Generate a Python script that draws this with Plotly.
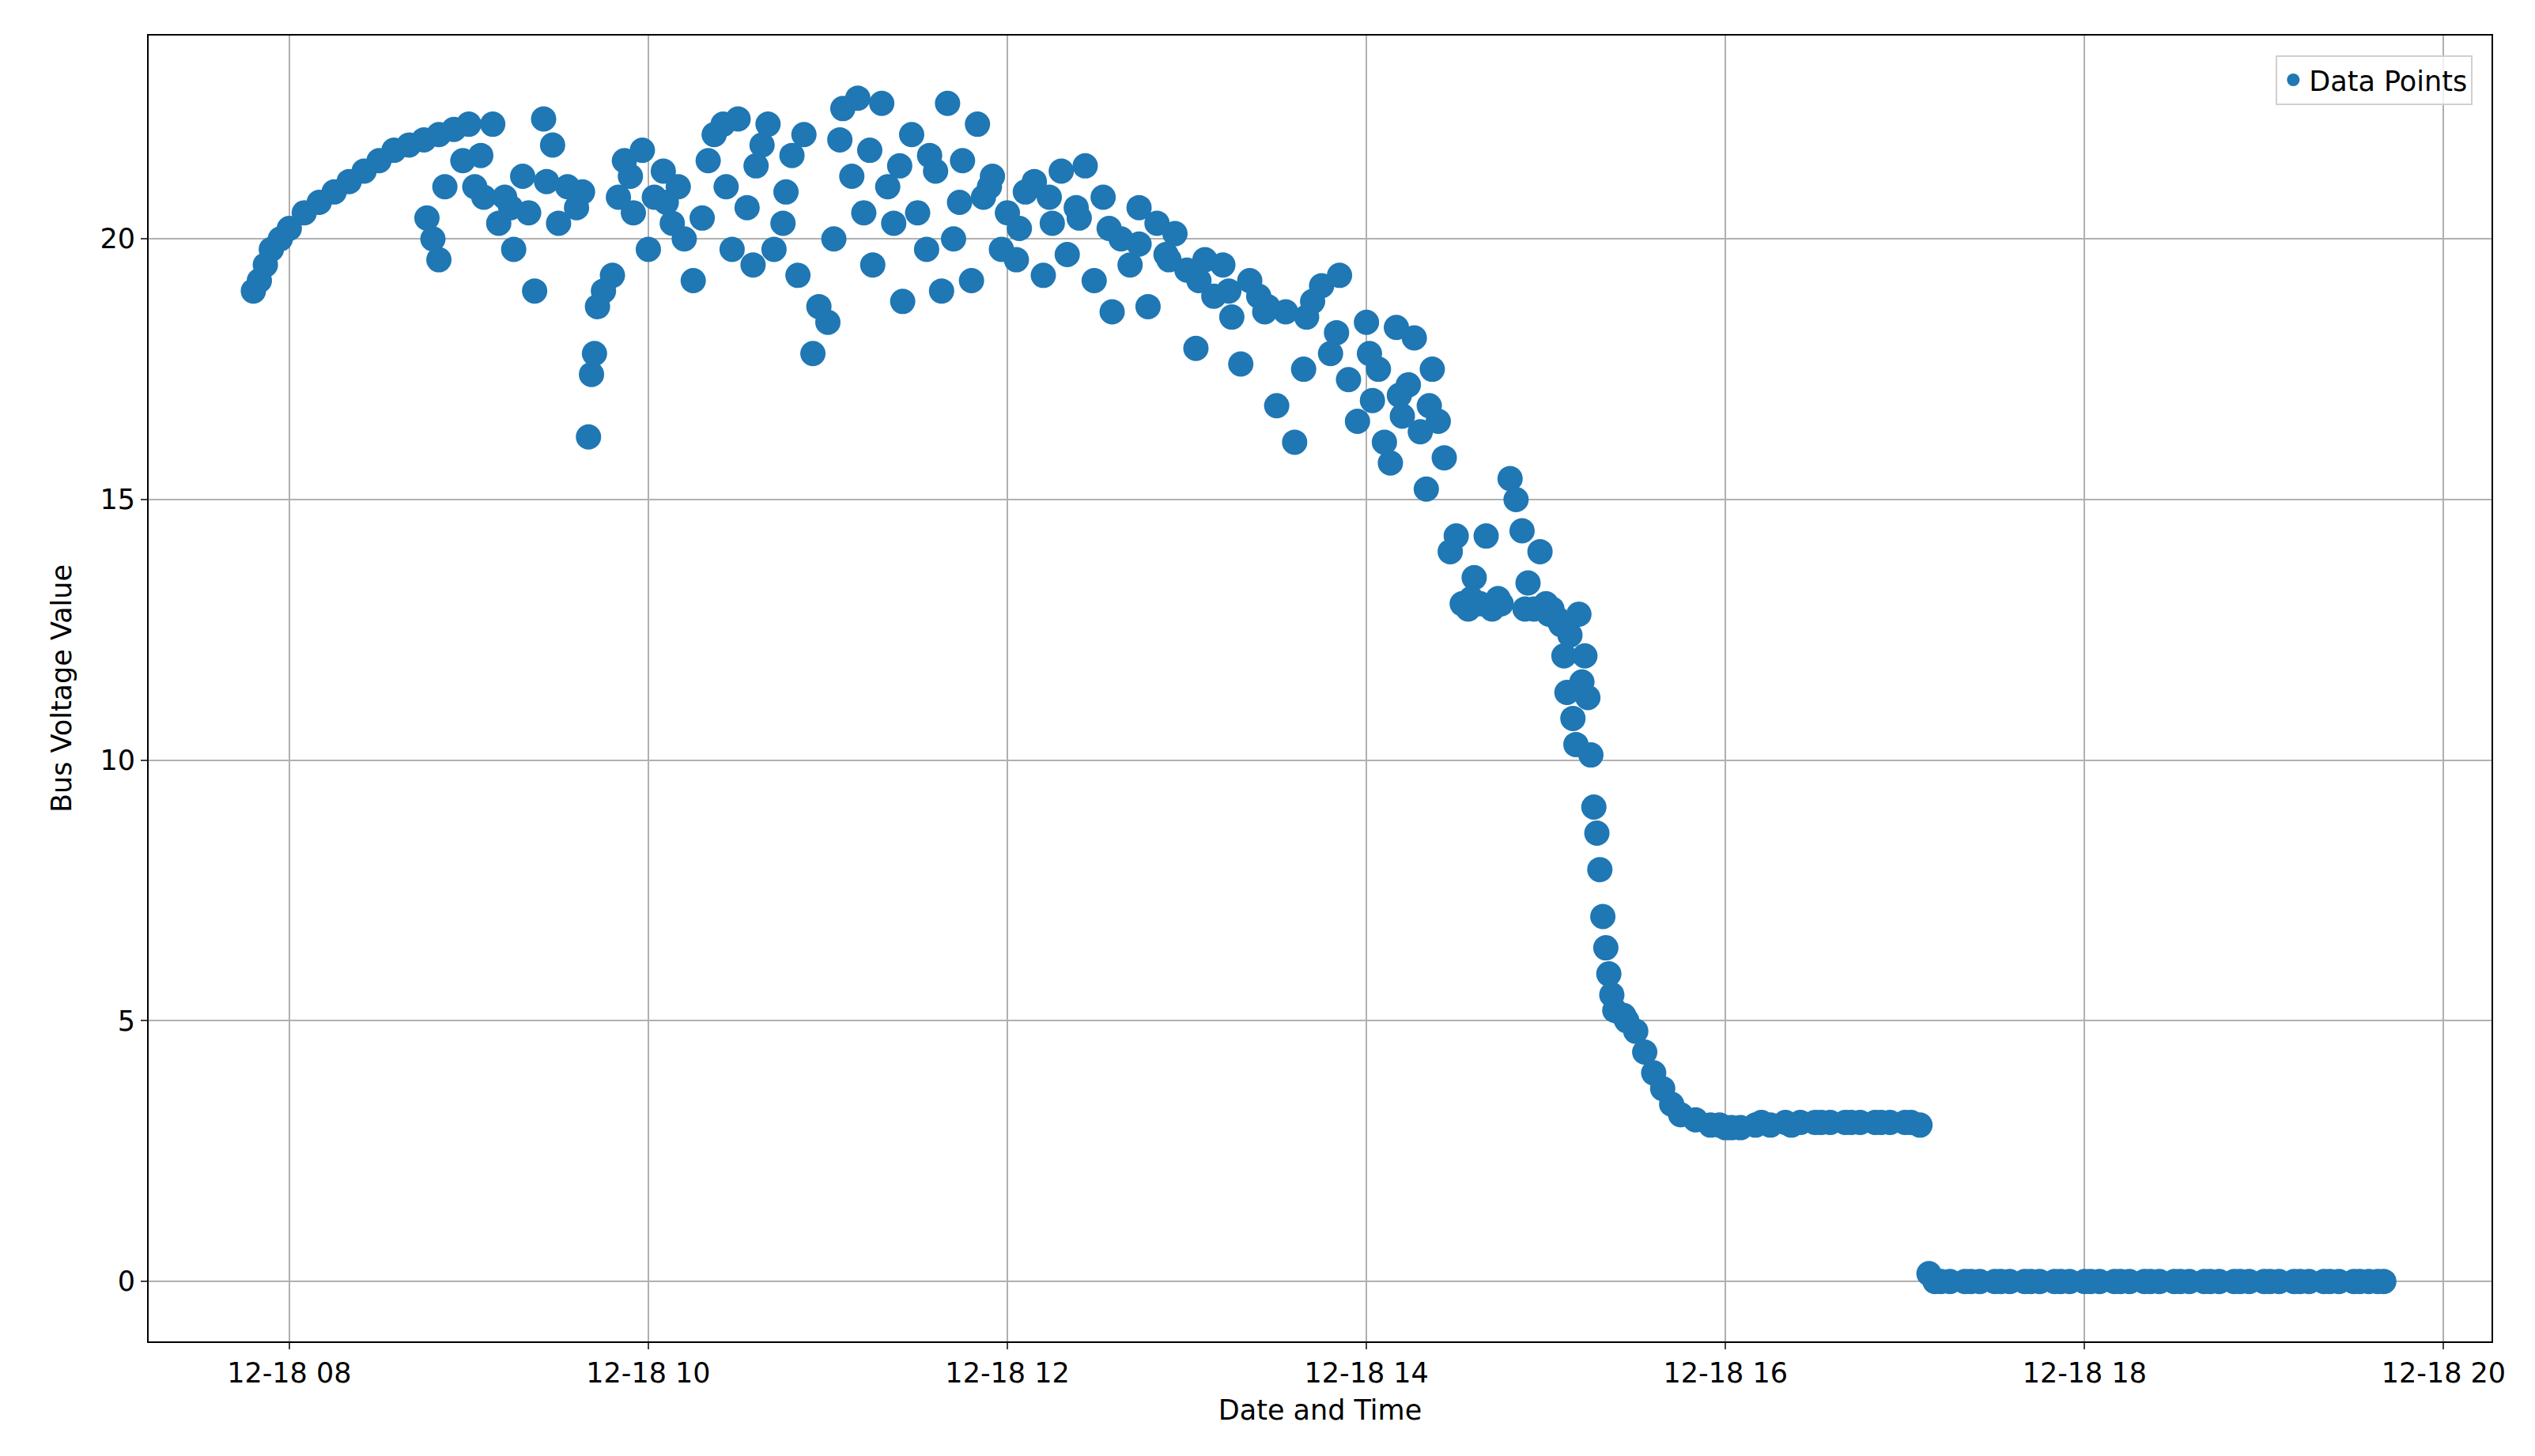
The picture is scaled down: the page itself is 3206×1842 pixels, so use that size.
import plotly.graph_objects as go

day = "2023-12-18 "

times = [
    "07:48", "07:50", "07:52", "07:54", "07:57", "08:00", "08:05", "08:10", "08:15", "08:20",
    "08:25", "08:30", "08:35", "08:40", "08:45", "08:50", "08:55", "09:00",
    "08:46", "08:48", "08:50", "08:52", "08:58", "09:02", "09:05",
    "09:08", "09:10", "09:12", "09:15", "09:18", "09:20", "09:22", "09:25", "09:28", "09:30",
    "09:33", "09:36", "09:40", "09:41", "09:42", "09:43", "09:45", "09:48", "09:50", "09:52",
    "09:55", "09:58", "10:00", "10:02", "10:05", "10:08", "10:10", "10:12", "10:15", "10:18",
    "10:20", "10:22", "10:25", "10:28", "10:30", "10:33", "10:35", "10:38", "10:40", "10:42",
    "10:45", "10:48", "10:50", "10:52", "10:55", "10:57", "11:00", "11:02", "11:05", "11:08",
    "11:10", "11:12", "11:15", "11:18", "11:20", "11:22", "11:25", "11:28", "11:30", "11:33",
    "11:36", "11:38", "11:40", "11:42", "11:45", "11:48", "11:50", "11:52", "11:55", "11:58",
    "12:00", "12:03", "12:06", "12:09", "12:12", "12:15", "12:18", "12:20", "12:23", "12:26",
    "12:29", "12:32", "12:35", "12:38", "12:41", "12:44", "12:47", "12:50", "12:53", "12:56",
    "13:00", "13:03", "13:06", "13:09", "13:12", "13:15", "13:18", "13:21", "13:24", "13:27",
    "13:30", "13:33", "13:36", "13:39", "13:42", "13:45", "13:48", "13:51", "13:54", "13:57",
    "14:00", "14:02", "14:04", "14:06", "14:08", "14:10", "14:12", "14:14", "14:16", "14:18",
    "14:20", "14:22", "14:24", "14:26", "14:28", "14:30", "14:32", "14:34", "14:36", "14:38",
    "14:40", "14:42", "14:45", "14:48", "14:50", "14:52", "14:54", "14:56", "14:58", "15:00",
    "15:02", "15:04", "15:06", "15:07", "15:08", "15:09", "15:10", "15:11", "15:12", "15:13",
    "15:14", "15:15", "15:16", "15:17", "15:18", "15:19", "15:20", "15:21", "15:22", "15:23",
    "15:26", "15:30", "15:33", "15:36", "15:39", "15:42", "15:45", "15:50", "15:55",
    "16:00", "16:05", "16:10", "16:15", "16:20", "16:25", "16:30", "16:35", "16:40", "16:45",
    "16:50", "16:55", "17:00", "17:05",
    "17:08", "17:10", "17:15", "17:20", "17:25", "17:30", "17:35", "17:40", "17:45", "17:50",
    "17:55", "18:00", "18:05", "18:10", "18:15", "18:20", "18:25", "18:30", "18:35", "18:40",
    "18:45", "18:50", "18:55", "19:00", "19:05", "19:10", "19:15", "19:20", "19:25", "19:30",
    "19:35", "19:40",
    # extra readings filling the dense mid-day band
    "09:04", "09:14", "09:26", "09:38", "09:54", "10:06", "10:26", "10:36", "10:46", "11:04",
    "11:14", "11:24", "11:34", "11:44", "11:54", "12:04", "12:14", "12:24", "12:34", "12:44",
    "12:54", "13:04", "13:14", "13:26", "13:40", "13:50", "14:01", "14:11", "14:21", "14:35",
    "14:44", "14:53", "15:01", "15:05", "15:27", "15:58", "16:02", "16:12", "16:22", "16:32",
    "16:42", "16:52", "17:02", "17:12", "17:22", "17:32", "17:42", "17:52", "18:02", "18:12",
    "18:22", "18:32", "18:42", "18:52", "19:02", "19:12", "19:22", "19:32", "19:38",
]

bus_voltage = [
    19.0, 19.2, 19.5, 19.8, 20.0, 20.2, 20.5, 20.7, 20.9, 21.1,
    21.3, 21.5, 21.7, 21.8, 21.9, 22.0, 22.1, 22.2,
    20.4, 20.0, 19.6, 21.0, 21.5, 21.0, 20.8,
    22.2, 20.3, 20.8, 19.8, 21.2, 20.5, 19.0, 22.3, 21.8, 20.3,
    21.0, 20.6, 16.2, 17.4, 17.8, 18.7, 19.0, 19.3, 20.8, 21.5,
    20.5, 21.7, 19.8, 20.8, 21.3, 20.3, 21.0, 20.0, 19.2, 20.4,
    21.5, 22.0, 22.2, 19.8, 22.3, 20.6, 19.5, 21.8, 22.2, 19.8,
    20.3, 21.6, 19.3, 22.0, 17.8, 18.7, 18.4, 20.0, 22.5, 21.2,
    22.7, 20.5, 19.5, 22.6, 21.0, 20.3, 18.8, 22.0, 20.5, 19.8,
    21.3, 19.0, 22.6, 20.0, 21.5, 19.2, 22.2, 20.8, 21.2, 19.8,
    20.5, 19.6, 20.9, 21.1, 19.3, 20.3, 21.3, 19.7, 20.6, 21.4,
    19.2, 20.8, 18.6, 20.0, 19.5, 20.6, 18.7, 20.3, 19.7, 20.1,
    19.4, 17.9, 19.6, 18.9, 19.5, 18.5, 17.6, 19.2, 18.9, 18.7,
    16.8, 18.6, 16.1, 17.5, 18.8, 19.1, 17.8, 19.3, 17.3, 16.5,
    18.4, 16.9, 17.5, 16.1, 15.7, 18.3, 16.6, 17.2, 18.1, 16.3,
    15.2, 17.5, 16.5, 15.8, 14.0, 14.3, 13.0, 12.9, 13.5, 13.0,
    14.3, 12.9, 13.0, 15.4, 15.0, 14.4, 13.4, 12.9, 14.0, 13.0,
    12.9, 12.7, 12.0, 11.3, 12.4, 10.8, 10.3, 12.8, 11.5, 12.0,
    11.2, 10.1, 9.1, 8.6, 7.9, 7.0, 6.4, 5.9, 5.5, 5.2,
    5.1, 4.8, 4.4, 4.0, 3.7, 3.4, 3.2, 3.1, 3.0,
    2.95, 2.95, 3.0, 3.0, 3.05, 3.05, 3.05, 3.05, 3.05, 3.05,
    3.05, 3.05, 3.05, 3.0,
    0.15, 0.0, 0.0, 0.0, 0.0, 0.0, 0.0, 0.0, 0.0, 0.0,
    0.0, 0.0, 0.0, 0.0, 0.0, 0.0, 0.0, 0.0, 0.0, 0.0,
    0.0, 0.0, 0.0, 0.0, 0.0, 0.0, 0.0, 0.0, 0.0, 0.0,
    0.0, 0.0,
    21.6, 20.6, 21.1, 20.9, 21.2, 20.7, 21.0, 21.4, 20.9, 21.9,
    21.7, 21.4, 21.6, 20.7, 21.0, 20.2, 20.8, 20.4, 20.2, 19.9,
    19.6, 19.2, 19.0, 18.6, 18.5, 18.2, 17.8, 17.0, 16.8, 13.1,
    13.1, 12.9, 12.8, 12.6, 5.0, 3.0, 2.95, 3.05, 3.0, 3.05,
    3.05, 3.05, 3.05, 0.0, 0.0, 0.0, 0.0, 0.0, 0.0, 0.0,
    0.0, 0.0, 0.0, 0.0, 0.0, 0.0, 0.0, 0.0, 0.0,
]

tick_times = ["08:00", "10:00", "12:00", "14:00", "16:00", "18:00", "20:00"]
tick_labels = ["12-18 08", "12-18 10", "12-18 12", "12-18 14", "12-18 16", "12-18 18", "12-18 20"]

font = dict(family="DejaVu Sans", size=35, color="#000000")

fig = go.Figure(
    go.Scatter(
        x=[day + t for t in times],
        y=bus_voltage,
        mode="markers",
        name="Data Points",
        marker=dict(size=32, color="#1f77b4"),
        showlegend=True,
    )
)
axis_common = dict(
    showgrid=True,
    gridcolor="#b0b0b0",
    gridwidth=2,
    showline=True,
    linecolor="#000000",
    linewidth=2,
    mirror=True,
    ticks="outside",
    ticklen=8,
    tickwidth=2,
    zeroline=False,
    tickfont=font,
)
fig.update_layout(
    width=3206,
    height=1842,
    plot_bgcolor="white",
    paper_bgcolor="white",
    font=font,
    margin=dict(l=180, r=63, t=37, b=153),
    xaxis=dict(
        axis_common,
        range=[day + "07:13", day + "20:16"],
        tickvals=[day + t for t in tick_times],
        ticktext=tick_labels,
        title=dict(text="Date and Time", font=font, standoff=15),
    ),
    yaxis=dict(
        axis_common,
        range=[-1.15, 23.9],
        tickvals=[0, 5, 10, 15, 20],
        title=dict(text="Bus Voltage Value", font=font, standoff=25),
    ),
    legend=dict(
        x=0.992, y=0.985, xanchor="right", yanchor="top",
        bordercolor="#d0d0d0", borderwidth=2, bgcolor="rgba(255,255,255,0.8)",
        font=dict(family="DejaVu Sans", size=35, color="#000000"),
        itemsizing="trace",
    ),
)
fig.write_html("out.html")
